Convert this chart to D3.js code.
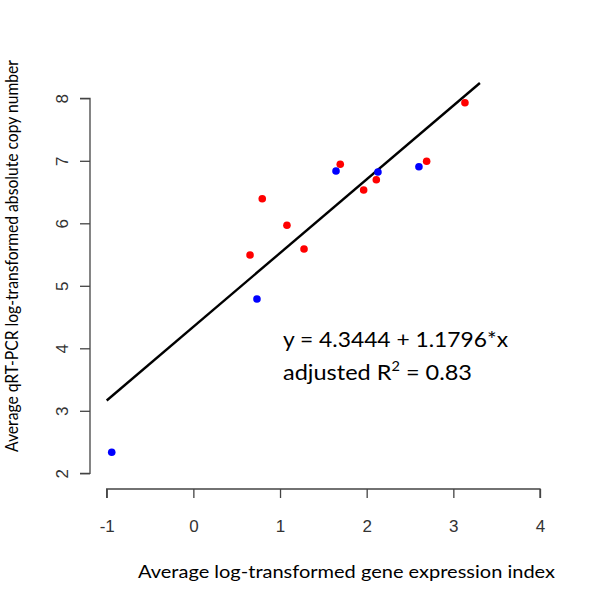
<!DOCTYPE html>
<html>
<head>
<meta charset="utf-8">
<script src="https://cdn.jsdelivr.net/npm/d3@7"></script>
<style>
  html, body { margin: 0; padding: 0; background: #fff; }
  svg { display: block; }
</style>
</head>
<body>
<svg id="chart" width="600" height="593"></svg>
<script>
// ---- data ----
const redX = [0.795, 1.080, 0.654, 1.277, 1.695, 2.111, 1.965, 2.692, 3.134];
const redY = [6.394, 5.968, 5.493, 5.589, 6.944, 6.698, 6.533, 6.992, 7.930];
const blueX = [-0.942, 0.734, 1.646, 2.130, 2.603];
const blueY = [2.336, 4.789, 6.837, 6.821, 6.906];
const xTicks = [-1, 0, 1, 2, 3, 4];
const yTicks = [2, 3, 4, 5, 6, 7, 8];
const fitIntercept = 4.3444;
const fitSlope = 1.1796;
const fitXStart = -1;
const plotYTop = 8.245;
const xTitle = "Average log-transformed gene expression index";
const yTitle = "Average qRT-PCR log-transformed absolute copy number";
const eqLine1 = "y = 4.3444 + 1.1796*x";
const eqLine2a = "adjusted R";
const eqLine2sup = "2";
const eqLine2b = " = 0.83";

// ---- scales ----
const x = d3.scaleLinear().domain([-1, 4]).range([106.7, 540]);
const y = d3.scaleLinear().domain([2, 8]).range([473.3, 98.3]);

const svg = d3.select("#chart");
const axisColor = "#444";
const tickFont = "Arial, 'Liberation Sans', sans-serif";
const labelFont = "Lato, 'Open Sans', sans-serif";

// x axis
const xAxis = svg.append("g").attr("transform", "translate(0,489)")
  .call(d3.axisBottom(x).tickValues(xTicks).tickSize(9).tickPadding(22).tickFormat(d => String(d)));
xAxis.select(".domain").attr("stroke", axisColor).attr("stroke-width", 1.3)
  .attr("d", `M${x(-1)},9V0H${x(4)}V9`);
xAxis.selectAll(".tick line").attr("stroke", axisColor).attr("stroke-width", 1.3);
xAxis.selectAll(".tick text").attr("font-family", tickFont).attr("font-size", 17).attr("fill", "#333");

// y axis
const yAxis = svg.append("g").attr("transform", "translate(90,0)")
  .call(d3.axisLeft(y).tickValues(yTicks).tickSize(10).tickPadding(0).tickFormat(d => String(d)));
yAxis.select(".domain").attr("stroke", axisColor).attr("stroke-width", 1.3)
  .attr("d", `M-10,${y(8)}H0V${y(2)}H-10`);
yAxis.selectAll(".tick line").attr("stroke", axisColor).attr("stroke-width", 1.3);
yAxis.selectAll(".tick text")
  .attr("font-family", tickFont).attr("font-size", 17).attr("fill", "#333")
  .attr("x", null).attr("dy", null)
  .attr("text-anchor", "middle")
  .attr("transform", "translate(-22,0) rotate(-90)");

// regression line
const fitXEnd = (plotYTop - fitIntercept) / fitSlope;
const linePts = [fitXStart, fitXEnd].map(v => [v, fitIntercept + fitSlope * v]);
svg.append("path")
  .attr("d", d3.line().x(d => x(d[0])).y(d => y(d[1]))(linePts))
  .attr("stroke", "#000").attr("stroke-width", 2.4).attr("fill", "none");

// points
const red = redX.map((v, i) => [v, redY[i]]);
const blue = blueX.map((v, i) => [v, blueY[i]]);
svg.append("g").selectAll("circle").data(red).join("circle")
  .attr("cx", d => x(d[0])).attr("cy", d => y(d[1])).attr("r", 3.8).attr("fill", "#ff0000");
svg.append("g").selectAll("circle").data(blue).join("circle")
  .attr("cx", d => x(d[0])).attr("cy", d => y(d[1])).attr("r", 3.8).attr("fill", "#0000ff");

// titles (compressed to the reference's width)
svg.append("text").text(xTitle)
  .attr("x", 346.5).attr("y", 578).attr("text-anchor", "middle")
  .attr("font-family", labelFont).attr("font-size", 17.5).attr("fill", "#000")
  .attr("textLength", 417).attr("lengthAdjust", "spacingAndGlyphs");

svg.append("text").text(yTitle)
  .attr("transform", "translate(18,256) rotate(-90)").attr("text-anchor", "middle")
  .attr("font-family", labelFont).attr("font-size", 17.5).attr("fill", "#000")
  .attr("textLength", 392).attr("lengthAdjust", "spacingAndGlyphs");

// equation
svg.append("text").text(eqLine1)
  .attr("x", 283).attr("y", 347)
  .attr("font-family", labelFont).attr("font-size", 21.5).attr("fill", "#000")
  .attr("textLength", 225).attr("lengthAdjust", "spacingAndGlyphs");
const e2 = svg.append("text")
  .attr("x", 283).attr("y", 380)
  .attr("font-family", labelFont).attr("font-size", 21.5).attr("fill", "#000");
e2.append("tspan").text(eqLine2a);
e2.append("tspan").text(eqLine2sup).attr("font-size", "0.62em").attr("dy", -9);
e2.append("tspan").text(eqLine2b).attr("dy", 9);
{
  const w = e2.node().getComputedTextLength();
  e2.attr("textLength", 189).attr("lengthAdjust", "spacingAndGlyphs");
}
</script>
</body>
</html>
